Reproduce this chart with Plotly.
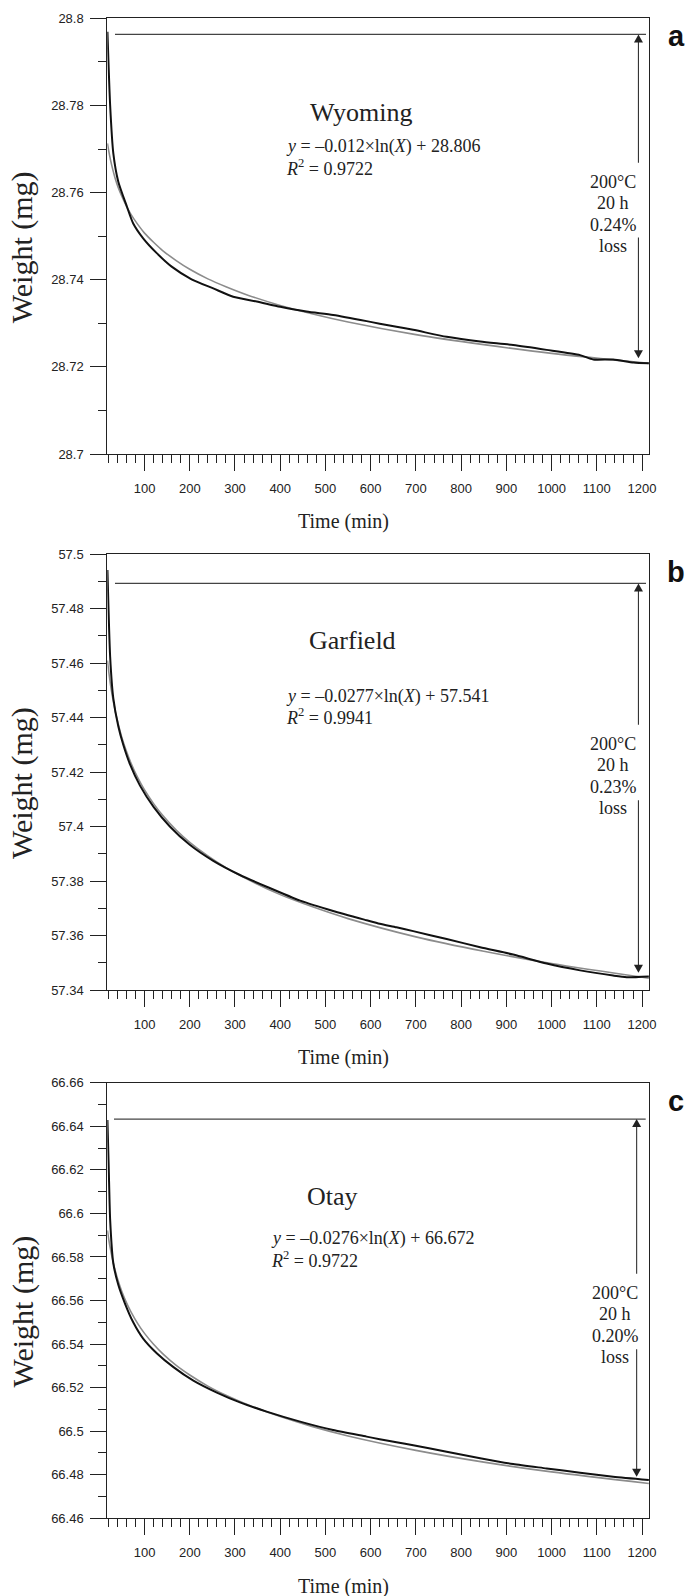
import plotly.graph_objects as go

# ---------------- data ----------------
sample_names = ["Wyoming", "Garfield", "Otay"]
panel_letters = ["a", "b", "c"]
fit_slopes = ["0.012", "0.0277", "0.0276"]
fit_intercepts = ["28.806", "57.541", "66.672"]
r_squared = ["0.9722", "0.9941", "0.9722"]
loss_pct = ["0.24%", "0.23%", "0.20%"]
loss_lines = ["200°C", "20 h", None, "loss"]

x_tick_vals = [100, 200, 300, 400, 500, 600, 700, 800, 900, 1000, 1100, 1200]
x_tick_text = ["100", "200", "300", "400", "500", "600", "700", "800", "900", "1000", "1100", "1200"]

y_tick_vals_a = [28.70, 28.72, 28.74, 28.76, 28.78, 28.80]
y_tick_text_a = ["28.7", "28.72", "28.74", "28.76", "28.78", "28.8"]
y_tick_vals_b = [57.34, 57.36, 57.38, 57.40, 57.42, 57.44, 57.46, 57.48, 57.50]
y_tick_text_b = ["57.34", "57.36", "57.38", "57.4", "57.42", "57.44", "57.46", "57.48", "57.5"]
y_tick_vals_c = [66.46, 66.48, 66.50, 66.52, 66.54, 66.56, 66.58, 66.60, 66.62, 66.64, 66.66]
y_tick_text_c = ["66.46", "66.48", "66.5", "66.52", "66.54", "66.56", "66.58", "66.6", "66.62", "66.64", "66.66"]

# measured weight (black)
time_a_meas = [18, 24, 31, 42, 61, 75, 97, 127, 160, 204, 252, 296, 348, 400, 458, 517, 591,
               620, 657, 694, 768, 842, 915, 989, 1063, 1092, 1136, 1181, 1215]
weight_a_meas = [28.7969, 28.7800, 28.7690, 28.7625, 28.7568, 28.7529, 28.7495, 28.7461, 28.7430,
                 28.7401, 28.7380, 28.7361, 28.7350, 28.7338, 28.7327, 28.7319, 28.7305, 28.7299,
                 28.7292, 28.7285, 28.7269, 28.7258, 28.7250, 28.7239, 28.7227, 28.7217, 28.7217,
                 28.7210, 28.7208]

time_b_meas = [18, 24, 31, 42, 53, 68, 90, 120, 156, 200, 252, 311, 370, 444, 517, 591, 620,
               657, 694, 768, 842, 915, 989, 1063, 1136, 1166, 1215]
weight_b_meas = [57.4941, 57.4623, 57.4470, 57.4368, 57.4300, 57.4228, 57.4150, 57.4072, 57.4000,
                 57.3933, 57.3874, 57.3822, 57.3779, 57.3728, 57.3690, 57.3656, 57.3643, 57.3630,
                 57.3616, 57.3587, 57.3557, 57.3530, 57.3497, 57.3472, 57.3453, 57.3447, 57.3450]

time_c_meas = [18, 21, 24, 31, 42, 57, 75, 97, 127, 164, 208, 260, 311, 370, 444, 517, 591, 620,
               657, 694, 768, 842, 915, 989, 1063, 1136, 1215]
weight_c_meas = [66.6429, 66.6199, 66.5970, 66.5771, 66.5672, 66.5585, 66.5500, 66.5425, 66.5358,
                 66.5294, 66.5232, 66.5177, 66.5132, 66.5090, 66.5044, 66.5005, 66.4975, 66.4963,
                 66.4949, 66.4935, 66.4906, 66.4876, 66.4849, 66.4829, 66.4809, 66.4791, 66.4776]

# fitted logarithmic trend (grey)
time_fit = [18, 21, 25, 30, 35, 42, 50, 60, 70, 85, 100, 120, 140, 170, 200, 240, 280, 330, 400,
            470, 550, 700, 850, 1000, 1215]
weight_a_fit = [28.7713, 28.7695, 28.7674, 28.7652, 28.7633, 28.7611, 28.7591, 28.7569, 28.7550,
                28.7527, 28.7507, 28.7486, 28.7467, 28.7444, 28.7424, 28.7402, 28.7384, 28.7364,
                28.7341, 28.7322, 28.7303, 28.7274, 28.7251, 28.7231, 28.7208]
weight_b_fit = [57.4609, 57.4567, 57.4518, 57.4468, 57.4425, 57.4375, 57.4326, 57.4276, 57.4233,
                57.4179, 57.4134, 57.4084, 57.4041, 57.3987, 57.3942, 57.3892, 57.3849, 57.3804,
                57.3750, 57.3706, 57.3662, 57.3595, 57.3542, 57.3497, 57.3443]
weight_c_fit = [66.5922, 66.5880, 66.5832, 66.5781, 66.5739, 66.5688, 66.5640, 66.5590, 66.5548,
                66.5494, 66.5449, 66.5399, 66.5356, 66.5302, 66.5258, 66.5207, 66.5165, 66.5120,
                66.5067, 66.5022, 66.4978, 66.4912, 66.4858, 66.4813, 66.4760]

# start level line and loss arrow end
start_level = [28.7963, 57.4892, 66.6433]
end_level = [28.7220, 57.3463, 66.4791]

# ---------------- layout helpers ----------------
W, H = 686, 1596
SERIF = "Liberation Serif, Times New Roman, serif"
SANS = "Liberation Sans, Arial, sans-serif"
INK = "#222222"


def px(x):
    return x / W


def py(y):
    return 1 - y / H


# panel pixel geometry: (top, bottom)
panel_px = [(18.3, 454.0), (554.0, 990.0), (1082.7, 1518.3)]
x_left, x_right = 107.3, 649.3
x_range = [17.7, 1216.0]

y_ranges = [[28.70, 28.80], [57.34, 57.50], [66.46, 66.66]]
y_ticks = [(y_tick_vals_a, y_tick_text_a), (y_tick_vals_b, y_tick_text_b), (y_tick_vals_c, y_tick_text_c)]
meas = [(time_a_meas, weight_a_meas), (time_b_meas, weight_b_meas), (time_c_meas, weight_c_meas)]
fits = [weight_a_fit, weight_b_fit, weight_c_fit]

# text placements (pixels)
name_pos = [(361, 112), (352, 640), (332, 1196)]
eq_pos = [(284, 146.7, 167.5), (284, 696.7, 716.7), (269, 1238.3, 1259.3)]
loss_x = [613.3, 613.3, 615.0]
loss_first_y = [181.7, 743.5, 1292.7]
loss_offsets = [0, 21, 43, 64.5]
arrow_x = [1192, 1192, 1188]
arrow_top_len = [128.4, 141.2, 154.7]
arrow_bot_len = [120.7, 172.7, 127.4]
line_x = [(34.7, 1208.7), (34.7, 1208.7), (32.5, 1208.0)]

fig = go.Figure()
layout = dict(
    width=W, height=H,
    margin=dict(l=0, r=0, t=0, b=0, autoexpand=False),
    paper_bgcolor="white", plot_bgcolor="white",
    showlegend=False,
)
annotations = []
shapes = []

minor_x = [v for v in range(20, 1220, 20) if v % 100 != 0]

for i in range(3):
    top, bot = panel_px[i]
    xa = "xaxis" if i == 0 else f"xaxis{i+1}"
    ya = "yaxis" if i == 0 else f"yaxis{i+1}"
    xr = "x" if i == 0 else f"x{i+1}"
    yr = "y" if i == 0 else f"y{i+1}"
    lo, hi = y_ranges[i]
    n_minor = int(round((hi - lo) / 0.01))
    minor_y = [round(lo + 0.01 * k, 3) for k in range(1, n_minor, 2)]
    dpp = (hi - lo) / (bot - top)  # data units per pixel

    layout[xa] = dict(
        domain=[px(x_left), px(x_right)], range=x_range, anchor=yr,
        showline=True, linecolor=INK, linewidth=1, mirror=True,
        ticks="outside", ticklen=16, tickwidth=1, tickcolor=INK,
        tickmode="array", tickvals=x_tick_vals, ticktext=x_tick_text,
        tickfont=dict(family=SANS, size=13, color=INK),
        ticklabelstandoff=6, automargin=False,
        minor=dict(tickmode="array", tickvals=minor_x, ticks="outside", ticklen=8,
                   tickwidth=1, tickcolor=INK, showgrid=False),
        showgrid=False, zeroline=False, fixedrange=True,
    )
    layout[ya] = dict(
        domain=[py(bot), py(top)], range=[lo, hi], anchor=xr,
        showline=True, linecolor=INK, linewidth=1, mirror=True,
        ticks="outside", ticklen=16, tickwidth=1, tickcolor=INK,
        tickmode="array", tickvals=y_ticks[i][0], ticktext=y_ticks[i][1],
        tickfont=dict(family=SANS, size=13, color=INK),
        ticklabelstandoff=4, automargin=False,
        minor=dict(tickmode="array", tickvals=minor_y, ticks="outside", ticklen=8,
                   tickwidth=1, tickcolor=INK, showgrid=False),
        showgrid=False, zeroline=False, fixedrange=True,
    )

    # fitted curve (grey) then measured (black)
    fig.add_trace(go.Scatter(x=time_fit, y=fits[i], mode="lines", xaxis=xr, yaxis=yr,
                             line=dict(color="#8c8c8c", width=1.6, shape="spline", smoothing=0.8),
                             hoverinfo="skip"))
    fig.add_trace(go.Scatter(x=meas[i][0], y=meas[i][1], mode="lines", xaxis=xr, yaxis=yr,
                             line=dict(color="#111111", width=2.0, shape="spline", smoothing=0.6),
                             hoverinfo="skip"))

    # start level line
    shapes.append(dict(type="line", xref=xr, yref=yr, x0=line_x[i][0], x1=line_x[i][1],
                       y0=start_level[i], y1=start_level[i],
                       line=dict(color="#444444", width=1.2)))

    # arrow: two segments broken around the text, with filled heads
    shapes.append(dict(type="line", xref=xr, yref=yr, x0=arrow_x[i], x1=arrow_x[i],
                       y0=start_level[i] - 6 * dpp, y1=start_level[i] - arrow_top_len[i] * dpp,
                       line=dict(color="#333333", width=1.1)))
    shapes.append(dict(type="line", xref=xr, yref=yr, x0=arrow_x[i], x1=arrow_x[i],
                       y0=end_level[i] + 6 * dpp, y1=end_level[i] + arrow_bot_len[i] * dpp,
                       line=dict(color="#333333", width=1.1)))
    shapes.append(dict(type="path", xref=xr, yref=yr, xsizemode="pixel", ysizemode="pixel",
                       xanchor=arrow_x[i], yanchor=start_level[i],
                       path="M 0 0 L -4.5 -8 L 4.5 -8 Z", fillcolor="#222222",
                       line=dict(width=0)))
    shapes.append(dict(type="path", xref=xr, yref=yr, xsizemode="pixel", ysizemode="pixel",
                       xanchor=arrow_x[i], yanchor=end_level[i],
                       path="M 0 0 L -4.5 8 L 4.5 8 Z", fillcolor="#222222",
                       line=dict(width=0)))

    # loss text, line by line
    for k, txt in enumerate(loss_lines):
        t = loss_pct[i] if txt is None else txt
        annotations.append(dict(xref="paper", yref="paper", x=px(loss_x[i]),
                                y=py(loss_first_y[i] + loss_offsets[k]),
                                xanchor="center", yanchor="middle", showarrow=False,
                                text=t, font=dict(family=SERIF, size=18, color=INK)))

    # sample name
    annotations.append(dict(xref="paper", yref="paper", x=px(name_pos[i][0]), y=py(name_pos[i][1]),
                            xanchor="center", yanchor="middle", showarrow=False,
                            text=sample_names[i], font=dict(family=SERIF, size=26, color=INK)))
    # equation lines
    annotations.append(dict(xref="paper", yref="paper", x=px(eq_pos[i][0]), y=py(eq_pos[i][1]),
                            xanchor="left", yanchor="middle", showarrow=False,
                            text=f"<i>y</i> = –{fit_slopes[i]}×ln(<i>X</i>) + {fit_intercepts[i]}",
                            font=dict(family=SERIF, size=18, color=INK)))
    annotations.append(dict(xref="paper", yref="paper", x=px(eq_pos[i][0]), y=py(eq_pos[i][2]),
                            xanchor="left", yanchor="middle", showarrow=False,
                            text=f"<i>R</i><sup>2</sup> = {r_squared[i]}",
                            font=dict(family=SERIF, size=18, color=INK)))

    # axis titles
    annotations.append(dict(xref="paper", yref="paper", x=px(22), y=py((top + bot) / 2 + 11),
                            xanchor="center", yanchor="middle", showarrow=False, textangle=-90,
                            text="Weight (mg)", font=dict(family=SERIF, size=30, color=INK)))
    annotations.append(dict(xref="paper", yref="paper", x=0.5, y=py(bot + 67.7),
                            xanchor="center", yanchor="middle", showarrow=False,
                            text="Time (min)", font=dict(family=SERIF, size=20, color=INK)))
    # panel letter
    annotations.append(dict(xref="paper", yref="paper", x=px(676), y=py(top + 18),
                            xanchor="center", yanchor="middle", showarrow=False,
                            text=f"<b>{panel_letters[i]}</b>",
                            font=dict(family=SANS, size=29, color="#111111")))

layout["annotations"] = annotations
layout["shapes"] = shapes
fig.update_layout(**layout)
fig.write_html("out.html",
               config={"displayModeBar": False, "staticPlot": True},
               post_script="document.body.style.margin='0px';document.body.style.overflow='hidden';")
